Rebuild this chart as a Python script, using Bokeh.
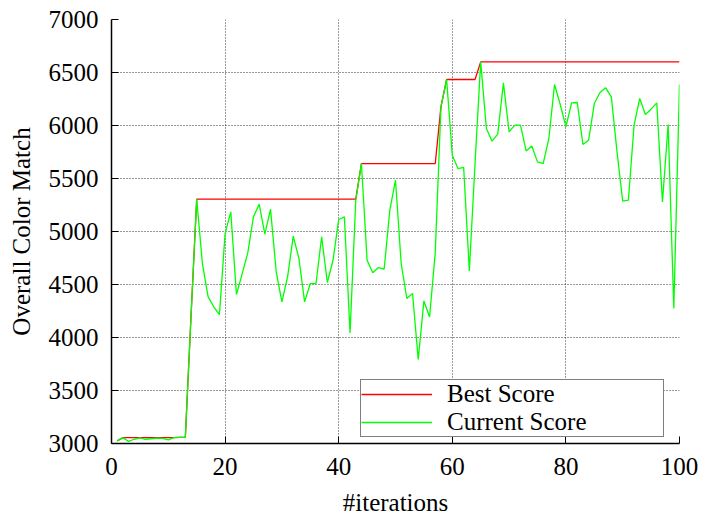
from bokeh.plotting import figure
from bokeh.models import FixedTicker, Legend, LegendItem, Range1d
from bokeh.embed import file_html
from bokeh.resources import INLINE

iterations = list(range(1, 101))

current_score = [
    3025, 3055, 3020, 3040, 3052, 3040, 3045, 3050, 3048, 3035,
    3055, 3058, 3058, 4200, 5305, 4700, 4385, 4290, 4215, 4980,
    5185, 4405, 4600, 4800, 5140, 5258, 4975, 5210, 4620, 4336,
    4572, 4956, 4745, 4336, 4509, 4509, 4949, 4519, 4729, 5113,
    5138, 4043, 5290, 5641, 4729, 4610, 4660, 4644, 5201, 5484,
    4698, 4368, 4415, 3792, 4345, 4194, 4800, 6176, 6434, 5720,
    5594, 5604, 4628, 5640, 6600, 5972, 5852, 5918, 6402, 5940,
    6003, 6003, 5760, 5807, 5657, 5641, 5877, 6387, 6198, 5987,
    6213, 6217, 5821, 5861, 6207, 6311, 6355, 6270, 5751, 5286,
    5295, 6003, 6255, 6104, 6154, 6213, 5279, 6009, 4274, 6387,
]

best_score = [
    3025, 3055, 3055, 3055, 3055, 3055, 3055, 3055, 3055, 3055,
    3055, 3058, 3058, 4200, 5305, 5305, 5305, 5305, 5305, 5305,
    5305, 5305, 5305, 5305, 5305, 5305, 5305, 5305, 5305, 5305,
    5305, 5305, 5305, 5305, 5305, 5305, 5305, 5305, 5305, 5305,
    5305, 5305, 5305, 5641, 5641, 5641, 5641, 5641, 5641, 5641,
    5641, 5641, 5641, 5641, 5641, 5641, 5641, 6176, 6434, 6434,
    6434, 6434, 6434, 6434, 6600, 6600, 6600, 6600, 6600, 6600,
    6600, 6600, 6600, 6600, 6600, 6600, 6600, 6600, 6600, 6600,
    6600, 6600, 6600, 6600, 6600, 6600, 6600, 6600, 6600, 6600,
    6600, 6600, 6600, 6600, 6600, 6600, 6600, 6600, 6600, 6600,
]

x_ticks = [0, 20, 40, 60, 80, 100]
y_ticks = [3000, 3500, 4000, 4500, 5000, 5500, 6000, 6500, 7000]
x_title = "#iterations"
y_title = "Overall Color Match"

FONT = "Liberation Serif"
FS = "25px"

p = figure(width=704, height=519, output_backend="svg", toolbar_location=None,
           x_range=Range1d(0, 100), y_range=Range1d(3000, 7000),
           min_border_left=111, min_border_right=25,
           min_border_top=19, min_border_bottom=76)

p.outline_line_color = None
p.background_fill_color = "white"
p.border_fill_color = "white"

for ax in (p.xaxis[0], p.yaxis[0]):
    ax.axis_line_color = "black"
    ax.axis_line_width = 1.5
    ax.major_tick_in = 7
    ax.major_tick_out = 0
    ax.major_tick_line_color = "black"
    ax.minor_tick_line_color = None
    ax.major_label_text_font = FONT
    ax.major_label_text_font_size = FS
    ax.major_label_text_color = "black"
    ax.axis_label_text_font = FONT
    ax.axis_label_text_font_size = FS
    ax.axis_label_text_font_style = "normal"
    ax.axis_label_text_color = "black"

p.xaxis.ticker = FixedTicker(ticks=x_ticks)
p.yaxis.ticker = FixedTicker(ticks=y_ticks)
p.xaxis.axis_label = x_title
p.yaxis.axis_label = y_title
p.xaxis.major_label_standoff = 14
p.yaxis.major_label_standoff = 13
p.xaxis.axis_label_standoff = 11
p.xaxis.major_label_text_line_height = 1.0
p.xaxis.axis_label_text_line_height = 1.0
p.yaxis.axis_label_standoff = 11

p.xgrid.ticker = FixedTicker(ticks=x_ticks)
p.ygrid.ticker = FixedTicker(ticks=y_ticks)
for g in (p.xgrid[0], p.ygrid[0]):
    g.grid_line_color = "black"
    g.grid_line_alpha = 0.8
    g.grid_line_dash = "1 2"
    g.grid_line_width = 1

r_best = p.line(iterations, best_score, line_color="#ff0000", line_width=1.3)
r_cur = p.line(iterations, current_score, line_color="#00ff00", line_width=1.3)

legend = Legend(items=[LegendItem(label="Best Score", renderers=[r_best]),
                       LegendItem(label="Current Score", renderers=[r_cur])],
                location=(249, 6))
legend.label_text_font = FONT
legend.label_text_font_size = FS
legend.label_text_color = "black"
legend.label_text_line_height = 1.0
legend.border_line_color = "black"
legend.border_line_width = 1
legend.background_fill_color = "white"
legend.background_fill_alpha = 1
legend.padding = 0
legend.spacing = -3
legend.margin = 0
legend.glyph_width = 71
legend.glyph_height = 22
legend.label_height = 22
legend.label_standoff = 15
legend.label_width = 216
p.add_layout(legend)

open("out.html", "w").write(file_html(p, INLINE))
